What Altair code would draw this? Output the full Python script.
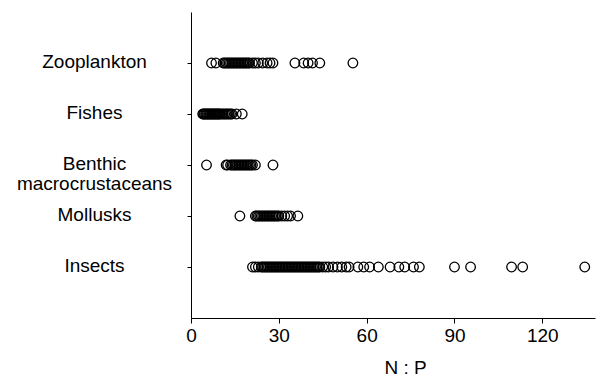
import altair as alt
import pandas as pd

categories = ["Zooplankton", "Fishes", "Benthic|macrocrustaceans", "Mollusks", "Insects"]

zooplankton = [7, 8.5, 11, 11.5, 12, 12.5, 13, 13.5, 14, 14.5, 15, 15.5, 16, 16.5,
               17, 17.5, 18, 18.5, 19, 19.5, 20, 21, 22, 23, 24.5, 26, 27, 28,
               35.5, 38.5, 40, 41.5, 44, 55.3]
fishes = [4, 4.3, 4.6, 5, 5.3, 5.6, 6, 6.3, 6.6, 7, 7.3, 7.6, 8, 8.3, 8.6, 9,
          9.3, 9.6, 10, 10.5, 11, 11.5, 12, 12.5, 13, 13.5, 14, 15.5, 17.5]
benthic = [5.3, 12, 12.5, 13.5, 14, 14.5, 15, 15.5, 16, 16.5, 17, 17.5, 18,
           18.5, 19, 19.5, 20, 20.5, 21, 22, 28]
mollusks = [16.7, 22, 22.5, 23, 23.5, 24, 24.5, 25, 25.5, 26, 26.5, 27, 27.5,
            28, 28.5, 29, 29.5, 30, 31, 32, 33, 34, 36.5]
insects = [21, 22, 23, 24, 24.5, 25, 25.5, 26, 26.5, 27, 27.5, 28, 28.5, 29,
           29.5, 30, 30.5, 31, 31.5, 32, 32.5, 33, 33.5, 34, 34.5, 35, 35.5, 36,
           36.5, 37, 37.5, 38, 38.5, 39, 39.5, 40, 40.5, 41, 41.5, 42, 42.5, 43,
           43.5, 44, 45, 46, 47, 48.5, 50, 51.5, 53, 54, 57, 59, 61, 64, 68, 71,
           73, 76, 78, 90, 95.5, 109.5, 113.3, 134.5]

series = [zooplankton, fishes, benthic, mollusks, insects]
rows = []
for cat, vals in zip(categories, series):
    for v in vals:
        rows.append({"group": cat, "np": v})
df = pd.DataFrame(rows)

FONT = "Liberation Sans"

chart = alt.Chart(df).mark_point(
    shape="circle", filled=False, size=92, stroke="black", strokeWidth=1.3, opacity=1
).encode(
    x=alt.X("np:Q", title="N : P",
            scale=alt.Scale(domain=[0, 138], nice=False, zero=True),
            axis=alt.Axis(values=[0, 30, 60, 90, 120], grid=False, tickSize=5,
                          labelPadding=3, labelFlush=False, titlePadding=13,
                          titleX=214, domainColor="black", tickColor="black")),
    y=alt.Y("group:N", title=None, sort=categories,
            scale=alt.Scale(type="point", padding=1),
            axis=alt.Axis(grid=False, tickSize=4, labelPadding=93, labelAlign="center",
                          labelBaseline="middle", labelLineHeight=20, labelOffset=-2,
                          labelExpr="split(datum.label, '|')",
                          domainColor="black", tickColor="black")),
).properties(
    width=404, height=306,
    autosize=alt.AutoSizeParams(type="none"),
    padding={"left": 191, "top": 12, "right": 1, "bottom": 62},
).configure_view(stroke=None).configure_axis(
    labelFont=FONT, titleFont=FONT, labelFontSize=19, titleFontSize=19,
    titleFontWeight="normal", labelColor="black", titleColor="black",
    domainWidth=1, tickWidth=1
)

chart.save("out.html", embed_options={"renderer": "svg", "actions": False})
